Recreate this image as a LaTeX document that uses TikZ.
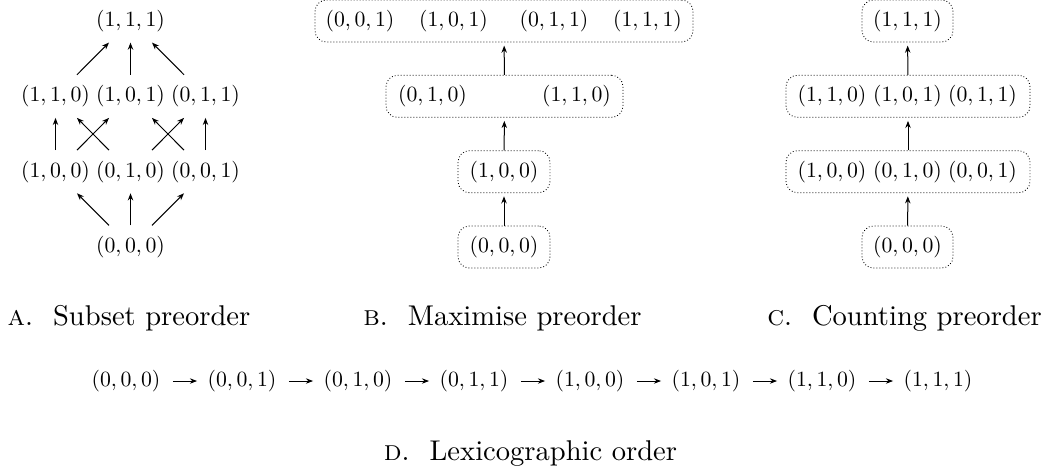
\documentclass[tikz,border=0pt]{standalone}
\usepackage{fix-cm}
\usetikzlibrary{arrows.meta}
\newcommand\pxu{0.35pt}
\newcommand\tpl[1]{\scalebox{0.76}{$#1$}}
\tikzset{
  tup/.style={inner sep=0pt, font=\fontsize{10}{12}\selectfont},
  anode/.style={tup, minimum height=42*\pxu},
  grp/.style={draw, line width=0.3pt, dash pattern=on 0.3pt off 0.75pt,
    rounded corners=4pt, minimum height=42*\pxu, inner sep=0pt},
  arr/.style={line width=0.35pt, -{Stealth[length=2.5pt,width=1.9pt]}},
  captext/.style={anchor=base, inner sep=0pt, font=\fontsize{10}{12}\selectfont},
}
\begin{document}
\begin{tikzpicture}[x=\pxu, y=-\pxu]
\useasboundingbox (0,0) rectangle (1059,471);
% ---------- A: subset preorder
\node[anode] (a000) at (130.5,247) {\tpl{(0,0,0)}};
\node[anode] (a100) at (55.5,171.7) {\tpl{(1,0,0)}};
\node[anode] (a010) at (130.5,171.7) {\tpl{(0,1,0)}};
\node[anode] (a001) at (205.5,171.7) {\tpl{(0,0,1)}};
\node[anode] (a110) at (55.5,96.3) {\tpl{(1,1,0)}};
\node[anode] (a101) at (130.5,96.3) {\tpl{(1,0,1)}};
\node[anode] (a011) at (205.5,96.3) {\tpl{(0,1,1)}};
\node[anode] (a111) at (130.5,21) {\tpl{(1,1,1)}};
\draw[arr] (a000) -- (a100);
\draw[arr] (a000) -- (a010);
\draw[arr] (a000) -- (a001);
\draw[arr] (a100) -- (a110);
\draw[arr] (a100) -- (a101);
\draw[arr] (a010) -- (a110);
\draw[arr] (a010) -- (a011);
\draw[arr] (a001) -- (a101);
\draw[arr] (a001) -- (a011);
\draw[arr] (a110) -- (a111);
\draw[arr] (a101) -- (a111);
\draw[arr] (a011) -- (a111);
% ---------- B: maximise preorder
\node[grp, minimum width=378*\pxu] (bg3) at (504,21) {};
\node[grp, minimum width=237*\pxu] (bg2) at (504.5,96.3) {};
\node[grp, minimum width=92*\pxu] (bg1) at (504,171.7) {};
\node[grp, minimum width=92*\pxu] (bg0) at (504,247) {};
\node[tup] (b001) at (360,21) {\tpl{(0,0,1)}};
\node[tup] (b101) at (453.5,21) {\tpl{(1,0,1)}};
\node[tup] (b011) at (554,21) {\tpl{(0,1,1)}};
\node[tup] (b111) at (647.5,21) {\tpl{(1,1,1)}};
\node[tup] (b010) at (432.5,96.3) {\tpl{(0,1,0)}};
\node[tup] (b110) at (576.5,96.3) {\tpl{(1,1,0)}};
\node[tup] (b100) at (504,171.7) {\tpl{(1,0,0)}};
\node[tup] (b000) at (504,247) {\tpl{(0,0,0)}};
\draw[arr, shorten >=1.1pt] (bg0) -- (bg1);
\draw[arr, shorten >=1.1pt] (bg1) -- (bg2);
\draw[arr, shorten >=1.1pt] (bg2) -- (bg3);
% ---------- C: counting preorder
\node[grp, minimum width=91*\pxu] (cg3) at (907.5,21) {};
\node[grp, minimum width=244*\pxu] (cg2) at (908,96.3) {};
\node[grp, minimum width=244*\pxu] (cg1) at (908,171.7) {};
\node[grp, minimum width=91*\pxu] (cg0) at (907.5,247) {};
\node[tup] (c111) at (907.5,21) {\tpl{(1,1,1)}};
\node[tup] (c110) at (832,96.3) {\tpl{(1,1,0)}};
\node[tup] (c101) at (907.5,96.3) {\tpl{(1,0,1)}};
\node[tup] (c011) at (982.5,96.3) {\tpl{(0,1,1)}};
\node[tup] (c100) at (832,171.7) {\tpl{(1,0,0)}};
\node[tup] (c010) at (907.5,171.7) {\tpl{(0,1,0)}};
\node[tup] (c001) at (982.5,171.7) {\tpl{(0,0,1)}};
\node[tup] (c000) at (907.5,247) {\tpl{(0,0,0)}};
\draw[arr, shorten >=1.1pt] (cg0) -- (cg1);
\draw[arr, shorten >=1.1pt] (cg1) -- (cg2);
\draw[arr, shorten >=1.1pt] (cg2) -- (cg3);
% ---------- captions
\node[captext] (capA) at (129,325) {\textsc{a}.\hspace{0.7em}Subset preorder};
\node[captext] (capB) at (502.5,325) {\textsc{b}.\hspace{0.7em}Maximise preorder};
\node[captext] (capC) at (904.5,325) {\textsc{c}.\hspace{0.7em}Counting preorder};
% ---------- D: lexicographic order
\foreach \t [count=\i from 0] in {(0,0,0),(0,0,1),(0,1,0),(0,1,1),(1,0,0),(1,0,1),(1,1,0),(1,1,1)}
  \node[tup] (l\i) at (126+116*\i,381) {\tpl{\t}};
\foreach \i [evaluate=\i as \j using int(\i+1)] in {0,...,6}
  \draw[arr, shorten <=4.2pt, shorten >=3.5pt] (l\i) -- (l\j);
\node[captext] (capD) at (530.5,460) {\textsc{d}.\hspace{0.7em}Lexicographic order};
\end{tikzpicture}
\end{document}
